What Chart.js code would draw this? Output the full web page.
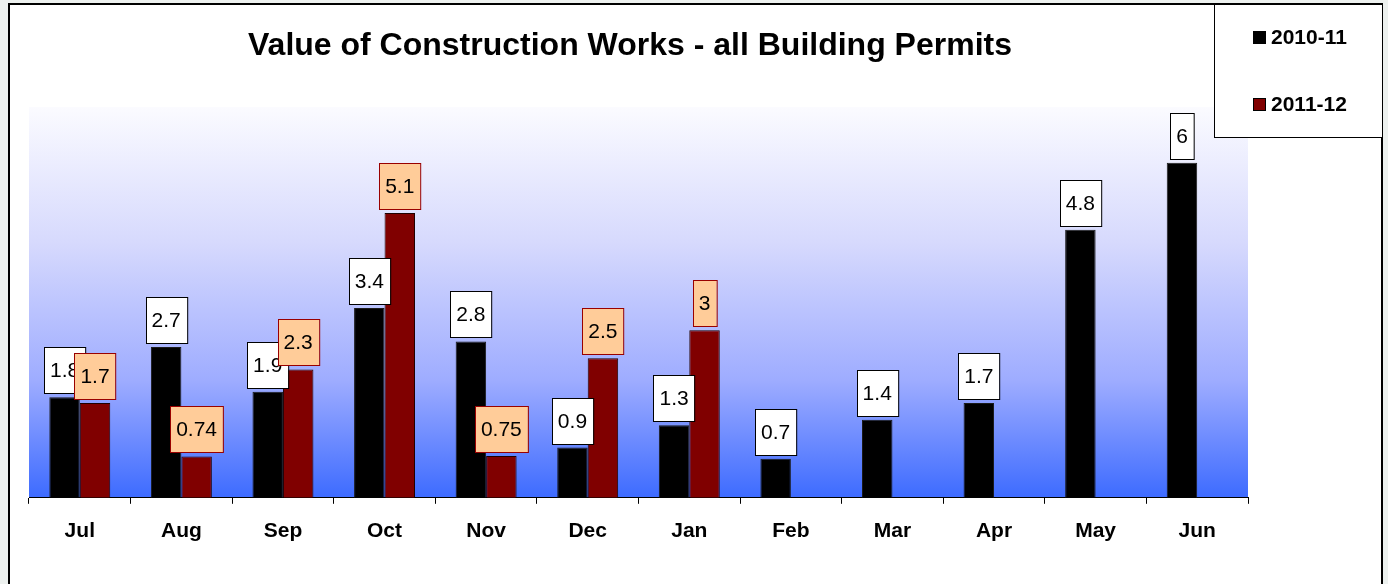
<!DOCTYPE html>
<html>
<head>
<meta charset="utf-8">
<script src="https://cdn.jsdelivr.net/npm/chart.js@4.4.1/dist/chart.umd.min.js"></script>
<style>
  html, body { margin: 0; padding: 0; background: #edf1ef; }
  #wrap { position: relative; width: 1388px; height: 584px; }
</style>
</head>
<body>
<div id="wrap"><canvas id="chart"></canvas></div>
<script>
// Value of Construction Works - grouped bars, two financial years
const chartTitle = 'Value of Construction Works - all Building Permits';
const months = ['Jul', 'Aug', 'Sep', 'Oct', 'Nov', 'Dec', 'Jan', 'Feb', 'Mar', 'Apr', 'May', 'Jun'];
const seriesNames = ['2010-11', '2011-12'];
const values2010 = [1.8, 2.7, 1.9, 3.4, 2.8, 0.9, 1.3, 0.7, 1.4, 1.7, 4.8, 6];
const values2011 = [1.7, 0.74, 2.3, 5.1, 0.75, 2.5, 3, null, null, null, null, null];

const FONT = '"Liberation Sans", Arial, sans-serif';
const barFill = ['#000000', '#800000'];
const labelFill = ['#ffffff', '#ffcc99'];
const labelEdge = ['#000000', '#990000'];

// white frame + gradient plot background
const backdrop = {
  id: 'backdrop',
  beforeDraw(chart) {
    const { ctx, chartArea: a } = chart;
    ctx.save();
    ctx.fillStyle = '#ffffff';
    ctx.fillRect(9, 4, 1373, 600);
    ctx.strokeStyle = '#000';
    ctx.lineWidth = 2;
    ctx.strokeRect(9, 4, 1373, 600);
    const g = ctx.createLinearGradient(0, a.top, 0, a.bottom);
    g.addColorStop(0, '#fbfbff');
    g.addColorStop(0.35, '#d6d9fd');
    g.addColorStop(0.7, '#9eacff');
    g.addColorStop(1, '#3d6bff');
    ctx.fillStyle = g;
    ctx.fillRect(a.left, a.top, a.right - a.left, a.bottom - a.top);
    ctx.restore();
  }
};

// boxed value labels above each bar
const valueBoxes = {
  id: 'valueBoxes',
  afterDatasetsDraw(chart) {
    const ctx = chart.ctx;
    ctx.save();
    ctx.font = '21px ' + FONT;
    ctx.textAlign = 'center';
    ctx.textBaseline = 'middle';
    chart.data.datasets.forEach((ds, di) => {
      const meta = chart.getDatasetMeta(di);
      meta.data.forEach((bar, i) => {
        const v = ds.data[i];
        if (v === null || v === undefined) return;
        const txt = String(v);
        const w = ctx.measureText(txt).width + 12;
        const h = 46;
        const bx = Math.round(bar.x - w / 2);
        const by = Math.round(bar.y - 4 - h);
        ctx.fillStyle = labelFill[di];
        ctx.fillRect(bx, by, w, h);
        ctx.strokeStyle = labelEdge[di];
        ctx.lineWidth = 1;
        ctx.strokeRect(bx + 0.5, by + 0.5, w, h);
        ctx.fillStyle = '#000';
        ctx.fillText(txt, bar.x, by + h / 2 + 1);
      });
    });
    ctx.restore();
  }
};

// title and boxed legend
const decor = {
  id: 'decor',
  afterDraw(chart) {
    const ctx = chart.ctx;
    ctx.save();
    ctx.fillStyle = '#000';
    ctx.font = 'bold 32px ' + FONT;
    ctx.textAlign = 'center';
    ctx.textBaseline = 'middle';
    ctx.fillText(chartTitle, 630, 46);

    ctx.fillStyle = '#fff';
    ctx.fillRect(1214, 4, 168, 133);
    ctx.strokeStyle = '#000';
    ctx.lineWidth = 1;
    ctx.strokeRect(1214.5, 4.5, 168, 133);
    ctx.font = 'bold 21px ' + FONT;
    ctx.textAlign = 'left';
    chart.data.datasets.forEach((ds, di) => {
      const y = 37 + di * 67;
      ctx.fillStyle = barFill[di];
      ctx.fillRect(1253, y - 6, 13, 13);
      ctx.strokeStyle = '#000';
      ctx.strokeRect(1253.5, y - 5.5, 12, 12);
      ctx.fillStyle = '#000';
      ctx.fillText(ds.label, 1271, y + 1);
    });
    ctx.restore();
  }
};

new Chart(document.getElementById('chart').getContext('2d'), {
  type: 'bar',
  data: {
    labels: months,
    datasets: [
      { label: seriesNames[0], data: values2010, backgroundColor: barFill[0], borderColor: '#1a1a1a', borderWidth: 1 },
      { label: seriesNames[1], data: values2011, backgroundColor: barFill[1], borderColor: '#200000', borderWidth: 1 }
    ]
  },
  options: {
    responsive: true,
    maintainAspectRatio: false,
    animation: false,
    layout: { padding: { left: 29, right: 140, top: 107, bottom: 25 } },
    datasets: { bar: { categoryPercentage: 0.6, barPercentage: 1 } },
    plugins: { legend: { display: false }, title: { display: false }, tooltip: { enabled: false } },
    scales: {
      x: {
        grid: { offset: true, drawOnChartArea: false, drawTicks: true, tickLength: 6, color: '#000' },
        border: { display: true, color: '#000', width: 1 },
        ticks: { color: '#000', padding: 15, font: { family: FONT, size: 21, weight: 'bold' } }
      },
      y: { display: false, min: 0, max: 7 }
    }
  },
  plugins: [backdrop, valueBoxes, decor]
});
</script>
</body>
</html>
